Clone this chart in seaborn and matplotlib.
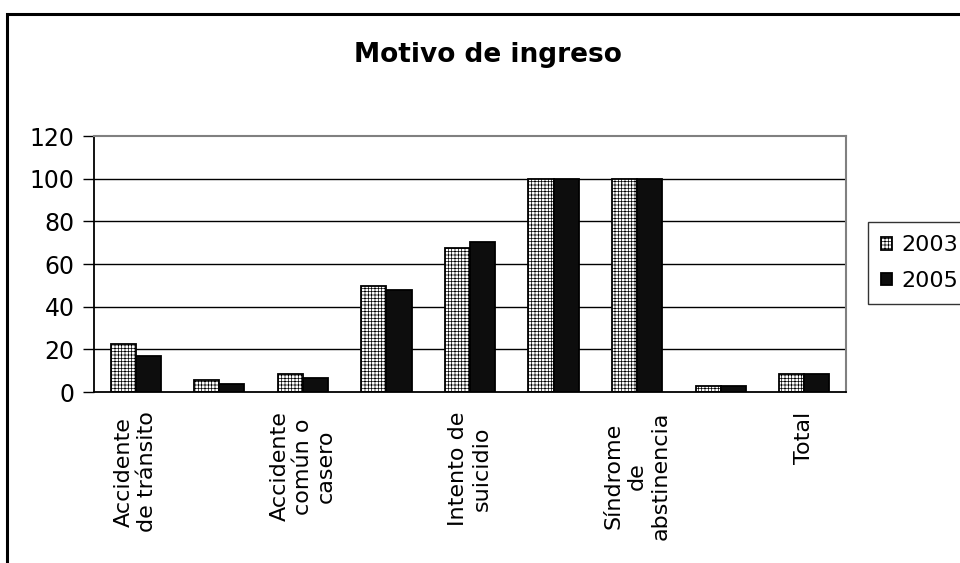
import pandas as pd
import matplotlib
matplotlib.use("Agg")
import matplotlib.pyplot as plt
from matplotlib.patches import Rectangle
import seaborn as sns

# categories (Excel only printed every other label)
categories = ["Accidente\nde tránsito", "", "Accidente\ncomún o\ncasero", "",
              "Intento de\nsuicidio", "", "Síndrome\nde\nabstinencia", "", "Total"]
years = ["2003", "2005"]
values_2003 = [22.4, 5.8, 8.4, 49.9, 67.5, 100, 100, 2.7, 8.4]
values_2005 = [16.9, 3.9, 6.6, 48.0, 70.3, 100, 100, 3.0, 8.4]

df = pd.DataFrame({
    "pos": list(range(len(categories))) * 2,
    "year": [years[0]] * len(categories) + [years[1]] * len(categories),
    "value": values_2003 + values_2005,
})

sns.set_style("white")
plt.rcParams["font.family"] = ["DejaVu Sans"]
plt.rcParams["hatch.linewidth"] = 0.5
plt.rcParams["text.color"] = "black"
plt.rcParams["xtick.color"] = "black"
plt.rcParams["ytick.color"] = "black"

fig = plt.figure(figsize=(9.6, 5.63), dpi=100)
ax = fig.add_axes([94 / 960, 1 - 392 / 563, (846 - 94) / 960, (392 - 136) / 563])

sns.barplot(data=df, x="pos", y="value", hue="year", hue_order=years,
            palette={"2003": "white", "2005": "#0d0d0d"}, width=0.6,
            gap=0, edgecolor="black", linewidth=1.3, legend=False, ax=ax)

for bar in ax.containers[0]:
    bar.set_hatch("+++++")
    bar.set_edgecolor("black")

ax.set_ylim(0, 120)
ax.set_xlim(-0.5, len(categories) - 0.5)
ax.set_yticks(range(0, 121, 20))
ax.set_yticklabels([str(v) for v in range(0, 121, 20)], fontsize=17, color="black")
for v in range(20, 101, 20):
    ax.axhline(v, color="black", lw=1, zorder=0)

ax.set_xticks(range(len(categories)))
ax.set_xticklabels(categories, rotation=90, fontsize=16, ha="center", va="top",
                   multialignment="center", linespacing=1.2, color="black")
ax.set_xticks([i - 0.5 for i in range(len(categories) + 1)], minor=True)
ax.tick_params(axis="x", which="major", length=0, pad=14)
ax.tick_params(axis="x", which="minor", length=8, width=1, color="black", direction="out")
ax.tick_params(axis="y", length=8, width=1, color="black", direction="out", left=True, pad=6)
ax.set_xlabel("")
ax.set_ylabel("")

for side in ["left", "bottom"]:
    ax.spines[side].set_color("black")
    ax.spines[side].set_linewidth(1.3)
for side in ["top", "right"]:
    ax.spines[side].set_color("#808080")
    ax.spines[side].set_linewidth(1.5)

handles = [ax.containers[0][0], ax.containers[1][0]]
leg = fig.legend(handles, years, loc="upper left", bbox_to_anchor=(868 / 960, 1 - 222 / 563),
                 fontsize=16, frameon=True, fancybox=False, edgecolor="black",
                 handlelength=0.5, handleheight=0.5, handletextpad=0.4,
                 borderpad=0.6, labelspacing=0.7, borderaxespad=0)
leg.get_frame().set_linewidth(1)
for t in leg.get_texts():
    t.set_color("black")

fig.text(488 / 960, 1 - 55 / 563, "Motivo de ingreso", ha="center", va="center",
         fontsize=19, fontweight="bold", color="black")

fig.patches.append(Rectangle((7 / 960, -0.1), 2, 1.1 - 14 / 563, transform=fig.transFigure,
                             fill=False, lw=2.2, edgecolor="black"))

fig.savefig("out.png", dpi=100)
